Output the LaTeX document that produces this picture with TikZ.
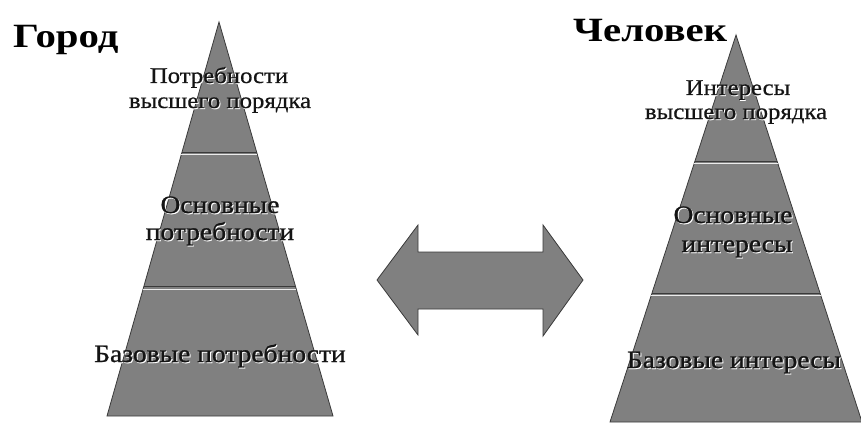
\documentclass[tikz,border=0pt]{standalone}
\usepackage{fontspec}
\setmainfont{Liberation Serif}
\newfontfamily\titlefont[FakeStretch=1.2]{Liberation Serif Bold}
\newfontfamily\lbltopfont[FakeStretch=1.1,FakeBold=0.6]{Liberation Serif}
\newfontfamily\lblmidfont[FakeStretch=1.1,FakeBold=1.0]{Liberation Serif}
\usetikzlibrary{calc}
\definecolor{pyrfill}{HTML}{808080}
\definecolor{pyredge}{HTML}{3A3A3A}
\definecolor{txtdark}{HTML}{141414}
\newcommand\embtext[1]{\makebox[0pt][l]{\raisebox{-1pt}{\hspace{1pt}\textcolor{white}{#1}}}\textcolor{txtdark}{#1}}
\tikzset{
  pyramid/.style={fill=pyrfill, draw=pyredge, line width=0.8pt, line join=miter},
  darkline/.style={draw=pyredge, line width=0.9pt},
  lightline/.style={draw=white!85!gray, line width=0.9pt},
  title/.style={font=\fontsize{34}{34}\titlefont, text=black, inner sep=0pt, anchor=base west},
  lbltop/.style={font=\fontsize{22.5}{25}\lbltopfont, inner sep=0pt, anchor=base},
  lblmid/.style={font=\fontsize{25}{30}\lblmidfont, inner sep=0pt, anchor=base},
  arrowshape/.style={fill=pyrfill, draw=pyredge, line width=0.8pt, line join=miter}
}
\begin{document}
\begin{tikzpicture}[x=1pt,y=-1pt]
\useasboundingbox (0,0) rectangle (861,425);
% left pyramid
\coordinate (LA) at (219,22);
\coordinate (LL) at (107,416);
\coordinate (LR) at (333,416);
\draw[pyramid] (LA) -- (LL) -- (LR) -- cycle;
\draw[darkline] ($(LA)!0.330!(LL)$) -- ($(LA)!0.330!(LR)$);
\draw[lightline] ($(LA)!0.336!(LL)$) -- ($(LA)!0.336!(LR)$);
\draw[darkline] ($(LA)!0.672!(LL)$) -- ($(LA)!0.672!(LR)$);
\draw[lightline] ($(LA)!0.678!(LL)$) -- ($(LA)!0.678!(LR)$);
% right pyramid
\coordinate (RA) at (736,35);
\coordinate (RL) at (610,422);
\coordinate (RR) at (862,422);
\draw[pyramid] (RA) -- (RL) -- (RR) -- cycle;
\draw[darkline] ($(RA)!0.326!(RL)$) -- ($(RA)!0.326!(RR)$);
\draw[lightline] ($(RA)!0.332!(RL)$) -- ($(RA)!0.332!(RR)$);
\draw[darkline] ($(RA)!0.667!(RL)$) -- ($(RA)!0.667!(RR)$);
\draw[lightline] ($(RA)!0.673!(RL)$) -- ($(RA)!0.673!(RR)$);
% double arrow
\draw[arrowshape] (377,280) -- (418,225) -- (418,252) -- (543,252) -- (543,225)
  -- (583,280) -- (543,336) -- (543,309) -- (418,309) -- (418,335) -- cycle;
% titles
\node[title] (tcity) at (13,48) {Город};
\node[title] (tman) at (573,42) {Человек};
% left labels
\node[lbltop] (l1a) at (219,83) {\embtext{Потребности}};
\node[lbltop] (l1b) at (220,108) {\embtext{высшего порядка}};
\node[lblmid] (l2a) at (220,213) {\embtext{Основные}};
\node[lblmid] (l2b) at (220,240) {\embtext{потребности}};
\node[lblmid] (l3) at (220,362) {\embtext{Базовые потребности}};
% right labels
\node[lbltop] (r1a) at (738,95) {\embtext{Интересы}};
\node[lbltop] (r1b) at (736,119) {\embtext{высшего порядка}};
\node[lblmid] (r2a) at (733,223) {\embtext{Основные}};
\node[lblmid] (r2b) at (737,252) {\embtext{интересы}};
\node[lblmid] (r3) at (734,368) {\embtext{Базовые интересы}};
\end{tikzpicture}
\end{document}
